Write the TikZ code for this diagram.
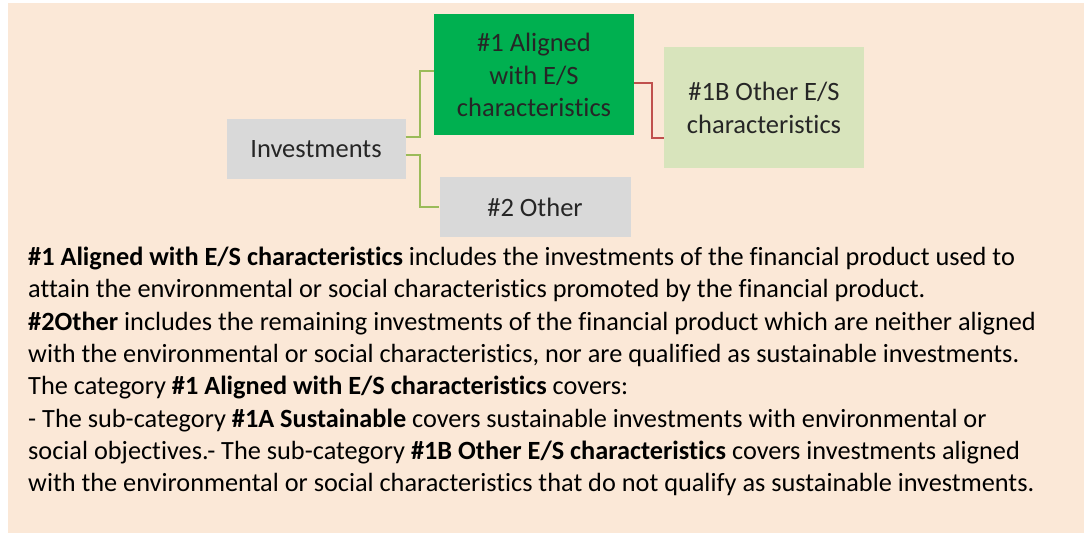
\documentclass[tikz,border=0pt]{standalone}
\usepackage{fontspec}
\setmainfont{Carlito}[Ligatures=NoCommon]
\usetikzlibrary{positioning}

\definecolor{peach}{RGB}{251,232,215}
\definecolor{boxgrey}{RGB}{217,217,217}
\definecolor{aligngreen}{RGB}{0,176,80}
\definecolor{palegreen}{RGB}{216,228,188}
\definecolor{linegreen}{RGB}{155,187,89}
\definecolor{linered}{RGB}{192,80,77}

\tikzset{
    catbox/.style={fill=boxgrey, text=black!85, align=center, inner sep=0pt,
        font=\fontsize{26.5}{32.5}\selectfont},
    treeline/.style={linegreen, line width=2pt},
    subline/.style={linered, line width=2pt}
}

\begin{document}
\begin{tikzpicture}[x=1pt,y=-1pt]
            % background panel
            \useasboundingbox (0,0) rectangle (1084,537);
            \fill[peach] (8,3) rectangle (1084,533);
            % the category boxes
            \node[catbox, minimum width=179pt, minimum height=60pt] (inv) at (316,149) {Investments};
            \node[catbox, fill=aligngreen, minimum width=200pt, minimum height=121pt] (al) at (534,75)
                {\#1 Aligned\\with E/S\\characteristics};
            \node[catbox, minimum width=191pt, minimum height=60pt] (oth) at (535,207) {\#2 Other};
            \node[catbox, fill=palegreen, minimum width=200pt, minimum height=121pt] (ob) at (764,108)
                {\#1B Other E/S\\characteristics};
            % connectors
            \draw[treeline] ([yshift=12pt]inv.east) -- ++(14,0) |- ([yshift=4pt]al.west);
            \draw[treeline] ([yshift=-6pt]inv.east) -- ++(14,0) |- (oth.west);
            \draw[subline] ([yshift=-8pt]al.east) -- ++(18,0) |- ([yshift=-30pt]ob.west);
            % explanation text
            \node[anchor=north west, align=left, inner sep=0pt,
                font=\fontsize{26.3}{32.3}\selectfont] (desc) at (28,247) {%
                \textbf{\#1 Aligned with E/S characteristics} includes the investments of the financial product used to\\
                attain the environmental or social characteristics promoted by the financial product.\\
                \textbf{\#2Other} includes the remaining investments of the financial product which are neither aligned\\
                with the environmental or social characteristics, nor are qualified as sustainable investments.\\
                The category \textbf{\#1 Aligned with E/S characteristics} covers:\\
                - The sub-category \textbf{\#1A Sustainable} covers sustainable investments with environmental or\\
                social objectives.- The sub-category \textbf{\#1B Other E/S characteristics} covers investments aligned\\
                with the environmental or social characteristics that do not qualify as sustainable investments.};
        \end{tikzpicture}
\end{document}
